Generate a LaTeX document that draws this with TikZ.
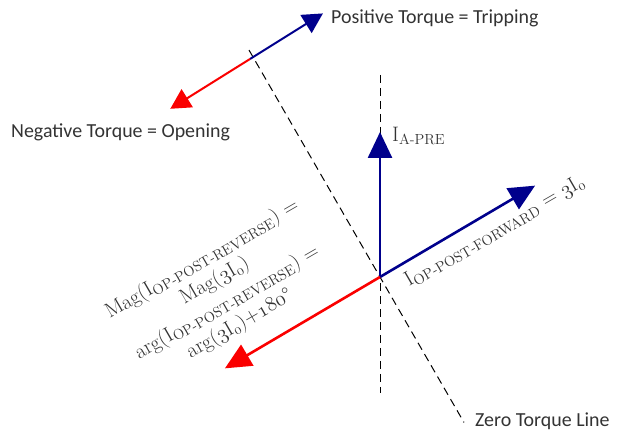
\documentclass[tikz,border=0pt]{standalone}
\usepackage{fontspec}
\setsansfont{Carlito}
\usepackage{tikz}
\usetikzlibrary{arrows.meta,calc}
\definecolor{phblue}{RGB}{0,0,140}
\definecolor{phred}{RGB}{250,0,0}
\newcommand{\osf}[1]{\ensuremath{\mathnormal{#1}}}

\begin{document}
\begin{tikzpicture}[
  x=1bp, y=1bp,
  font=\fontsize{21}{25}\selectfont, text=black!80,
  phasor/.style={line width=2.6bp, -{Triangle[length=26bp,width=24bp]}},
  torque/.style={line width=2bp, -{Triangle[length=20bp,width=21bp]}},
  refline/.style={line width=1bp, dash pattern=on 8bp off 5bp},
  tlabel/.style={font=\sffamily\fontsize{20}{24}\selectfont, anchor=west, inner sep=0pt},
  plabel/.style={inner sep=0pt}
]
\useasboundingbox (0,0) rectangle (632,433);

% reference lines
\coordinate (O) at (380,156);
\coordinate (vtop) at (380,358);
\coordinate (vbot) at (380,40);
\coordinate (ztop) at ($(O)+(120:262)$);
\coordinate (zbot) at ($(O)+(-60:168)$);
\draw[refline] (vtop) -- (vbot);
\draw[refline] (ztop) -- (zbot);

% phasors
\coordinate (pre) at (380,301);
\coordinate (fwd) at ($(O)+(30.5:180)$);
\coordinate (rev) at ($(O)+(210.5:180)$);
\draw[phasor, phblue] (O) -- (pre);
\draw[phasor, phblue] (O) -- (fwd);
\draw[phasor, phred] (O) -- (rev);

% torque direction
\coordinate (cross) at (250,374);
\coordinate (pos) at ($(cross)+(32:86)$);
\coordinate (neg) at ($(cross)+(212:94)$);
\draw[torque, phblue] (cross) -- (pos);
\draw[torque, phred] (cross) -- (neg);

% labels
\node[tlabel] (postxt) at (331,415) {Positive Torque = Tripping};
\node[tlabel] (negtxt) at (11,301) {Negative Torque = Opening};
\node[tlabel] (zerotxt) at (475,12) {Zero Torque Line};
\node[plabel, anchor=west] (pretxt) at (392,297) {I\textsubscript{A-PRE}};
\node[plabel, anchor=base west, rotate=30] (fwdtxt) at (409,146)
  {I\textsubscript{OP-POST-FORWARD} = \osf{3}I\textsubscript{\osf{0}}};
\node[plabel, align=center, rotate=30] (revtxt) at (221,141)
  {Mag(I\textsubscript{OP-POST-REVERSE}) =\\
   Mag(\osf{3}I\textsubscript{\osf{0}})\\
   arg(I\textsubscript{OP-POST-REVERSE}) =\\
   arg(\osf{3}I\textsubscript{\osf{0}})+\osf{180}°};
\end{tikzpicture}
\end{document}
